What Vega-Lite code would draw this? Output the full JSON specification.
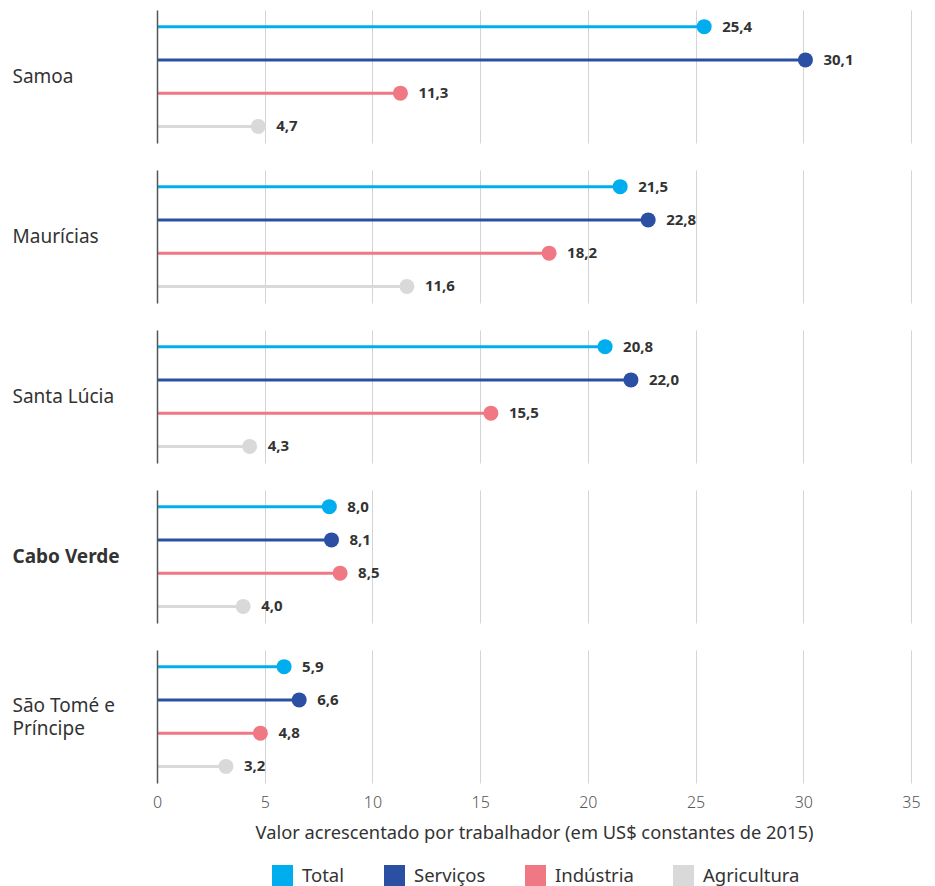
{
  "$schema": "https://vega.github.io/schema/vega-lite/v6.json",
  "padding": {"left": 12, "top": 10, "right": 5, "bottom": 2},
  "config": {
    "font": "Noto Sans",
    "locale": {"number": {"decimal": ",", "thousands": ".", "grouping": [3], "currency": ["US$", ""]}},
    "view": {"stroke": null},
    "axis": {"labelFont": "Noto Sans", "titleFont": "Noto Sans"}
  },
  "data": {
    "values": [
      {"country": "Samoa", "series": "Total", "value": 25.4},
      {"country": "Samoa", "series": "Serviços", "value": 30.1},
      {"country": "Samoa", "series": "Indústria", "value": 11.3},
      {"country": "Samoa", "series": "Agricultura", "value": 4.7},
      {"country": "Maurícias", "series": "Total", "value": 21.5},
      {"country": "Maurícias", "series": "Serviços", "value": 22.8},
      {"country": "Maurícias", "series": "Indústria", "value": 18.2},
      {"country": "Maurícias", "series": "Agricultura", "value": 11.6},
      {"country": "Santa Lúcia", "series": "Total", "value": 20.8},
      {"country": "Santa Lúcia", "series": "Serviços", "value": 22.0},
      {"country": "Santa Lúcia", "series": "Indústria", "value": 15.5},
      {"country": "Santa Lúcia", "series": "Agricultura", "value": 4.3},
      {"country": "Cabo Verde", "series": "Total", "value": 8.0},
      {"country": "Cabo Verde", "series": "Serviços", "value": 8.1},
      {"country": "Cabo Verde", "series": "Indústria", "value": 8.5},
      {"country": "Cabo Verde", "series": "Agricultura", "value": 4.0},
      {"country": "São Tomé e Príncipe", "series": "Total", "value": 5.9},
      {"country": "São Tomé e Príncipe", "series": "Serviços", "value": 6.6},
      {"country": "São Tomé e Príncipe", "series": "Indústria", "value": 4.8},
      {"country": "São Tomé e Príncipe", "series": "Agricultura", "value": 3.2}
    ]
  },
  "spacing": 27,
  "facet": {
    "row": {
      "field": "country",
      "type": "nominal",
      "sort": ["Samoa", "Maurícias", "Santa Lúcia", "Cabo Verde", "São Tomé e Príncipe"],
      "title": null,
      "header": {"labels": false}
    }
  },
  "resolve": {"scale": {"y": "independent"}},
  "spec": {
    "width": 754,
    "height": 133,
    "layer": [
      {
        "encoding": {
          "y": {
            "field": "series",
            "type": "nominal",
            "sort": ["Total", "Serviços", "Indústria", "Agricultura"],
            "axis": {"orient": "left", "labels": false, "ticks": false, "title": null, "domain": true, "domainColor": "#555555", "domainWidth": 1.5, "grid": false, "zindex": 2}
          },
          "color": {
            "field": "series",
            "type": "nominal",
            "sort": ["Total", "Serviços", "Indústria", "Agricultura"],
            "scale": {"domain": ["Total", "Serviços", "Indústria", "Agricultura"], "range": ["#00AEEF", "#2B4FA2", "#F07884", "#D9D9D9"]},
            "legend": {
              "title": null,
              "orient": "none",
              "legendX": 115,
              "legendY": 855,
              "direction": "horizontal",
              "symbolType": "square",
              "symbolSize": 441,
              "symbolStrokeWidth": 0,
              "symbolOpacity": 1,
              "labelFontSize": 18.5,
              "labelColor": "#333333",
              "columnPadding": 39,
              "labelOffset": 9
            }
          },
          "x": {
            "field": "value",
            "type": "quantitative",
            "scale": {"domain": [0, 35]},
            "axis": {
              "values": [0, 5, 10, 15, 20, 25, 30, 35],
              "domain": false,
              "ticks": false,
              "grid": true,
              "gridColor": "#d4d4d4",
              "gridWidth": 1,
              "labelFlush": false,
              "labelFontSize": 16,
              "labelFontWeight": 300,
              "labelColor": "#555555",
              "labelPadding": 11,
              "title": "Valor acrescentado por trabalhador (em US$ constantes de 2015)",
              "titleFontSize": 18.3,
              "titleFontWeight": "normal",
              "titleColor": "#333333",
              "titlePadding": 14
            }
          }
        },
        "layer": [
          {
            "mark": {"type": "rule", "strokeWidth": 3},
            "encoding": {"x2": {"datum": 0}}
          },
          {
            "mark": {"type": "circle", "size": 225, "opacity": 1}
          },
          {
            "mark": {"type": "text", "align": "left", "baseline": "middle", "dx": 18, "fontSize": 15, "fontWeight": "bold"},
            "encoding": {
              "text": {"field": "value", "type": "quantitative", "format": ".1f"},
              "color": {"value": "#333333"}
            }
          }
        ]
      },
      {
        "mark": {"type": "point", "opacity": 0, "size": 0},
        "encoding": {
          "y": {
            "field": "country",
            "type": "nominal",
            "axis": {
              "orient": "left",
              "title": null,
              "domain": false,
              "ticks": false,
              "grid": false,
              "labelAlign": "left",
              "labelBaseline": "middle",
              "labelPadding": 145,
              "labelFontSize": 19,
              "labelLineHeight": 23,
              "labelColor": "#333333",
              "labelLimit": 200,
              "labelOffset": {"condition": {"test": "datum.value === 'São Tomé e Príncipe'", "value": -11.5}, "value": 0},
              "labelFontWeight": {"condition": {"test": "datum.value === 'Cabo Verde'", "value": "bold"}, "value": "normal"},
              "labelExpr": "datum.value === 'São Tomé e Príncipe' ? ['São Tomé e', 'Príncipe'] : datum.value"
            }
          }
        }
      }
    ],
    "resolve": {"scale": {"y": "independent"}}
  }
}
